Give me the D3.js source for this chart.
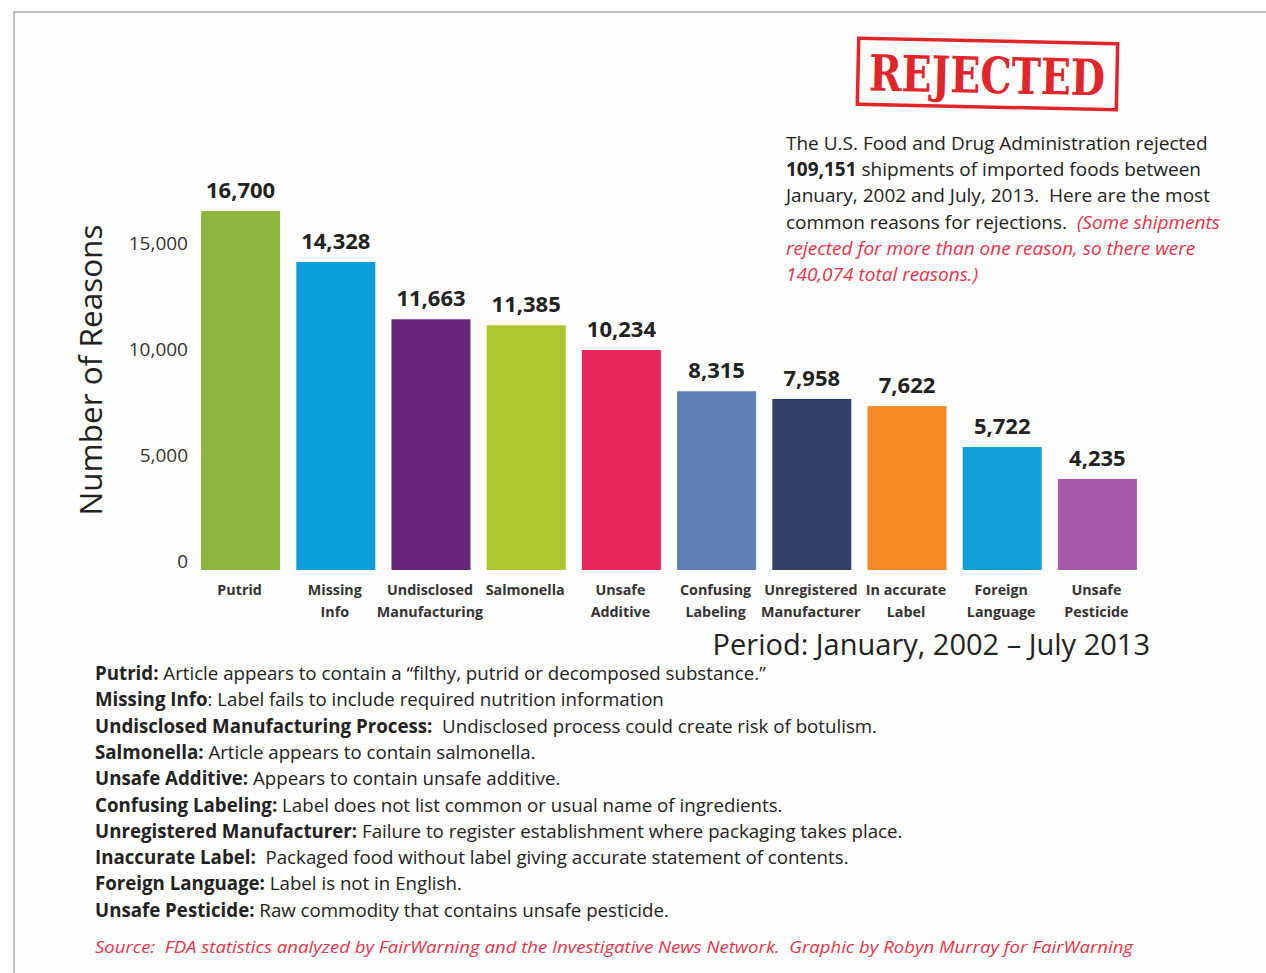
<!DOCTYPE html>
<html>
<head>
<meta charset="utf-8">
<script src="https://cdn.jsdelivr.net/npm/d3@7"></script>
<style>
  body { margin: 0; background: #fff; }
  svg { display: block; }
</style>
</head>
<body>
<div id="visualization"></div>
<script>
// chart data
const categories = ["Putrid", "Missing Info", "Undisclosed Manufacturing", "Salmonella", "Unsafe Additive",
  "Confusing Labeling", "Unregistered Manufacturer", "In accurate Label", "Foreign Language", "Unsafe Pesticide"];
const labelLines = [["Putrid"], ["Missing", "Info"], ["Undisclosed", "Manufacturing"], ["Salmonella"], ["Unsafe", "Additive"],
  ["Confusing", "Labeling"], ["Unregistered", "Manufacturer"], ["In accurate", "Label"], ["Foreign", "Language"], ["Unsafe", "Pesticide"]];
const values = [16700, 14328, 11663, 11385, 10234, 8315, 7958, 7622, 5722, 4235];
const barColors = ["#8db641", "#0c9fdb", "#68257a", "#abc92f", "#e6285a", "#5f7fb5", "#323f67", "#f28b22", "#10a0d6", "#a65ba9"];
const tickValues = [0, 5000, 10000, 15000];

// definitions under the chart
const defTerms = ["Putrid:", "Missing Info", "Undisclosed Manufacturing Process:", "Salmonella:", "Unsafe Additive:",
  "Confusing Labeling:", "Unregistered Manufacturer:", "Inaccurate Label:", "Foreign Language:", "Unsafe Pesticide:"];
const defTexts = [" Article appears to contain a \u201cfilthy, putrid or decomposed substance.\u201d",
  ": Label fails to include required nutrition information",
  "  Undisclosed process could create risk of botulism.",
  " Article appears to contain salmonella.",
  " Appears to contain unsafe additive.",
  " Label does not list common or usual name of ingredients.",
  " Failure to register establishment where packaging takes place.",
  "  Packaged food without label giving accurate statement of contents.",
  " Label is not in English.",
  " Raw commodity that contains unsafe pesticide."];

const svgWidth = 1266;
const svgHeight = 973;
const font = "'Open Sans', Lato, sans-serif";

const svg = d3.select("#visualization")
  .append("svg")
  .attr("width", svgWidth)
  .attr("height", svgHeight)
  .style("font-family", font);

// page background + frame
svg.append("rect").attr("width", svgWidth).attr("height", svgHeight).attr("fill", "#fff");
svg.append("rect").attr("x", 14).attr("y", 12).attr("width", svgWidth).attr("height", svgHeight)
  .attr("fill", "#fefefc").attr("stroke", "#aaa").attr("stroke-width", 1.5);

// scales
const XScale = d3.scaleBand(categories, [193, 1145]).paddingInner(0.17).paddingOuter(0.085);
const YScale = d3.scaleLinear([0, 16700], [570, 211]);

// y axis (labels only)
const YAxis = d3.axisLeft(YScale).tickValues(tickValues).tickFormat(d3.format(",")).tickSize(0).tickPadding(0);
const yAxisG = svg.append("g")
  .attr("class", "y-axis")
  .attr("transform", "translate(188,0)")
  .call(YAxis);
yAxisG.select(".domain").remove();
yAxisG.selectAll("text")
  .attr("dy", d => (-3 + d / 15000 * 5) + "px")
  .style("font-family", font)
  .style("font-size", "19px")
  .style("fill", "#333");

// y label
svg.append("text")
  .attr("transform", "rotate(-90)")
  .attr("x", -370)
  .attr("y", 102)
  .attr("text-anchor", "middle")
  .style("font-size", "31.5px")
  .style("fill", "#222")
  .text("Number of Reasons");

// bars
svg.selectAll("rect.bar")
  .data(values)
  .enter()
  .append("rect")
  .attr("class", "bar")
  .attr("x", (d, i) => XScale(categories[i]))
  .attr("y", d => YScale(d))
  .attr("width", XScale.bandwidth())
  .attr("height", d => YScale(0) - YScale(d))
  .attr("fill", (d, i) => barColors[i]);

// values on top of bars
svg.selectAll(".value")
  .data(values)
  .enter()
  .append("text")
  .attr("class", "value")
  .attr("x", (d, i) => XScale(categories[i]) + XScale.bandwidth() / 2)
  .attr("y", d => YScale(d) - 13)
  .attr("text-anchor", "middle")
  .style("font-size", "22px")
  .style("font-weight", "bold")
  .style("fill", "#222")
  .text(d => d3.format(",")(d));

// category labels
const catG = svg.selectAll(".cat")
  .data(labelLines)
  .enter()
  .append("text")
  .attr("class", "cat")
  .attr("text-anchor", "middle")
  .style("font-size", "14.3px")
  .style("font-weight", "bold")
  .style("fill", "#333");
catG.selectAll("tspan")
  .data((d, i) => d.map(line => ({ line, i })))
  .enter()
  .append("tspan")
  .attr("x", d => XScale(categories[d.i]) + XScale.bandwidth() / 2 - 1)
  .attr("y", (d, j) => 595 + j * 22)
  .text(d => d.line);

// period
svg.append("text")
  .attr("x", 1150)
  .attr("y", 655)
  .attr("text-anchor", "end")
  .style("font-size", "29px")
  .style("fill", "#222")
  .text("Period: January, 2002 \u2013 July 2013");

// definitions
svg.selectAll(".def")
  .data(defTerms)
  .enter()
  .append("text")
  .attr("class", "def")
  .attr("x", 95)
  .attr("y", (d, i) => 680 + i * 26.3)
  .style("font-size", "18.7px")
  .style("fill", "#222")
  .style("white-space", "pre")
  .each(function (d, i) {
    d3.select(this).append("tspan").style("font-weight", "bold").text(d);
    d3.select(this).append("tspan").text(defTexts[i]);
  });

// source
svg.append("text")
  .attr("x", 95)
  .attr("y", 953)
  .style("font-size", "17px")
  .style("font-style", "italic")
  .style("fill", "#e8334a")
  .style("white-space", "pre")
  .attr("textLength", 1038)
  .attr("lengthAdjust", "spacingAndGlyphs")
  .text("Source:  FDA statistics analyzed by FairWarning and the Investigative News Network.  Graphic by Robyn Murray for FairWarning");

// intro text, top right
const intro = [
  [["The U.S. Food and Drug Administration rejected", "n"]],
  [["109,151", "b"], [" shipments of imported foods between", "n"]],
  [["January, 2002 and July, 2013.  Here are the most", "n"]],
  [["common reasons for rejections.  ", "n"], ["(Some shipments", "r"]],
  [["rejected for more than one reason, so there were", "r"]],
  [["140,074 total reasons.)", "r"]]
];
svg.selectAll(".intro")
  .data(intro)
  .enter()
  .append("text")
  .attr("class", "intro")
  .attr("x", 786)
  .attr("y", (d, i) => 150 + i * 26.2)
  .style("font-size", "19px")
  .style("white-space", "pre")
  .each(function (parts) {
    parts.forEach(p => {
      d3.select(this).append("tspan")
        .style("font-weight", p[1] === "b" ? "bold" : "normal")
        .style("font-style", p[1] === "r" ? "italic" : "normal")
        .style("fill", p[1] === "r" ? "#e8334a" : "#222")
        .text(p[0]);
    });
  });

// REJECTED stamp
const stamp = svg.append("g").attr("transform", "rotate(1.2, 988, 75)");
stamp.append("rect")
  .attr("x", 858).attr("y", 41).attr("width", 259).attr("height", 66)
  .attr("fill", "none").attr("stroke", "#e0252b").attr("stroke-width", 3.5);
stamp.append("text")
  .attr("x", 987)
  .attr("y", 93)
  .attr("text-anchor", "middle")
  .attr("textLength", 236)
  .attr("lengthAdjust", "spacingAndGlyphs")
  .style("font-family", "'DejaVu Serif', serif")
  .style("font-weight", "bold")
  .style("font-size", "50px")
  .style("fill", "#e0252b")
  .text("REJECTED");
</script>
</body>
</html>
